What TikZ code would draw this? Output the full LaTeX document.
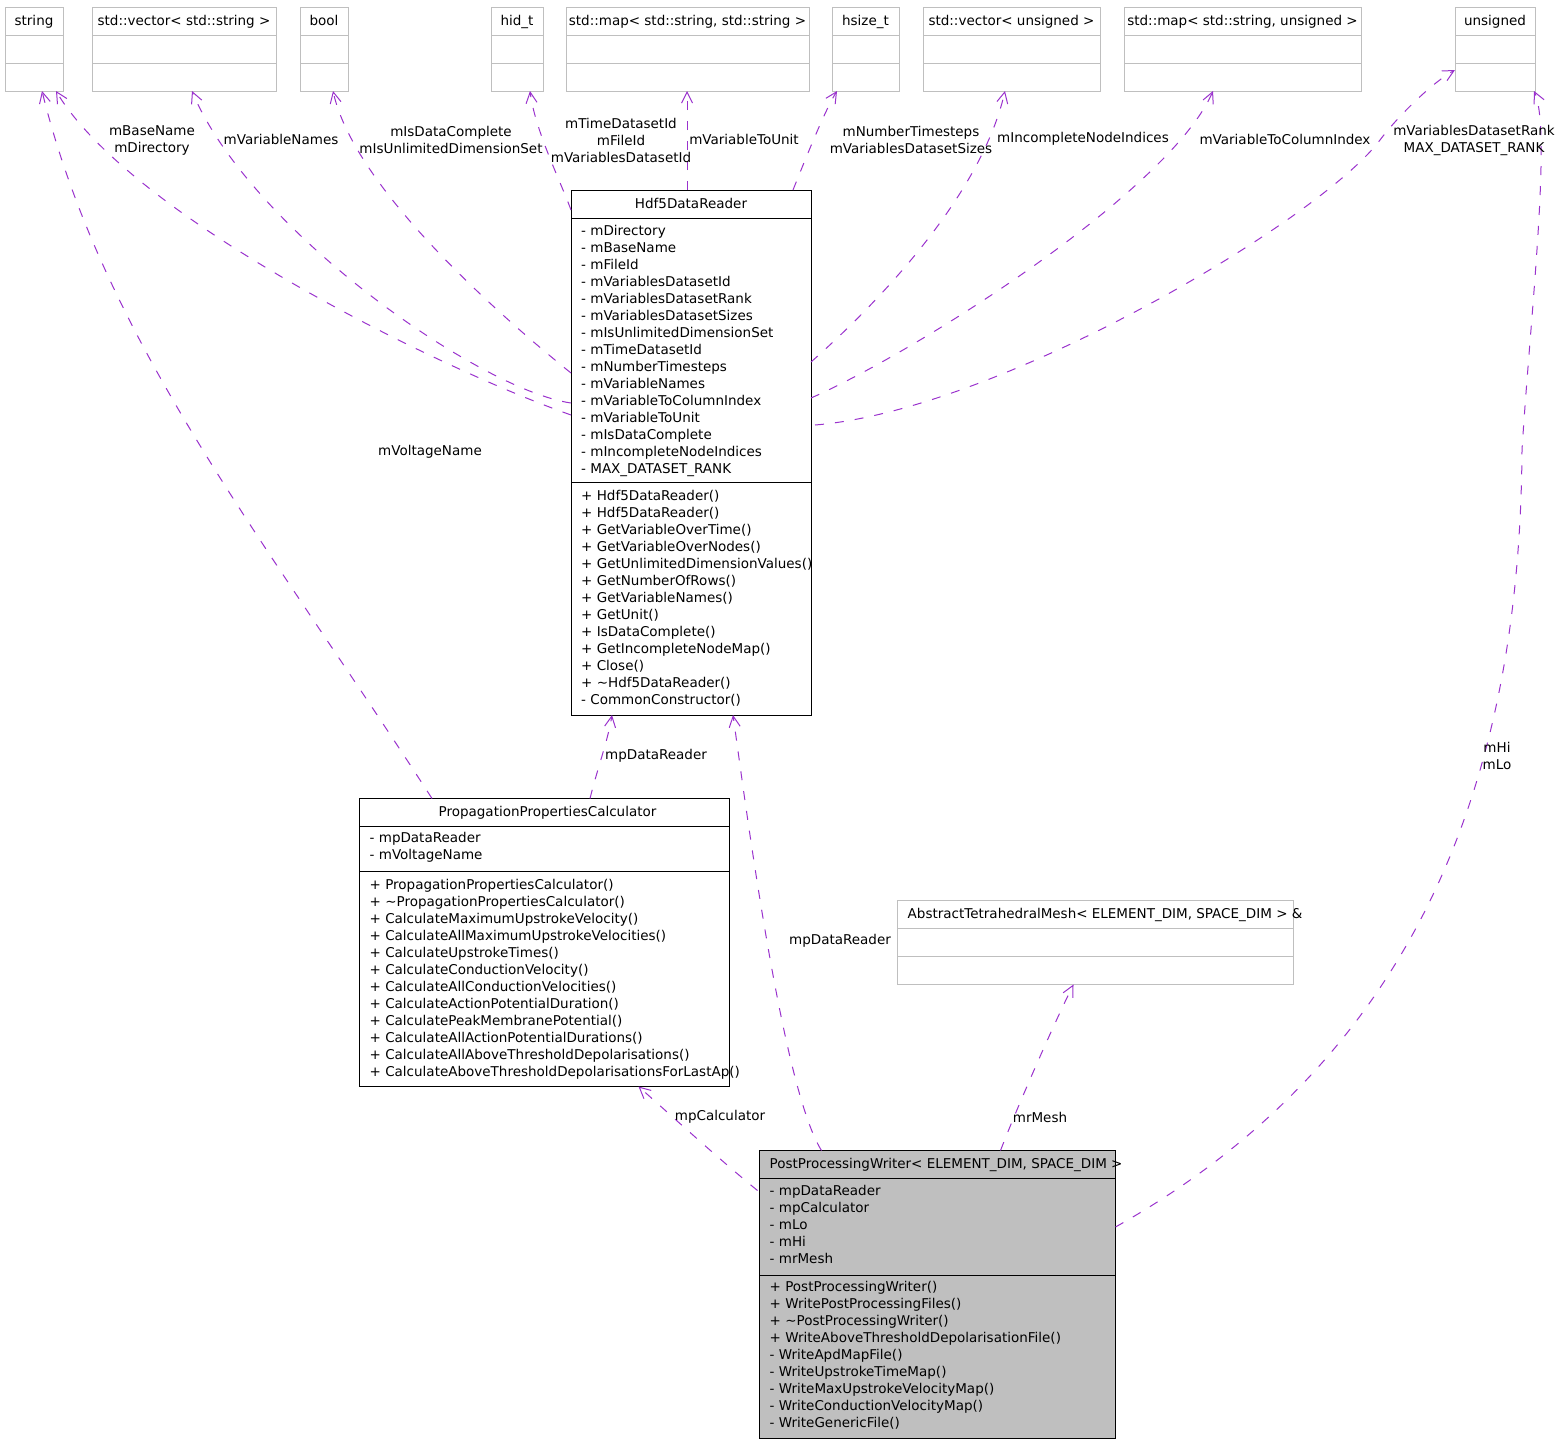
\documentclass[tikz,border=0pt]{standalone}
\usepackage{fontspec}
\setmainfont{DejaVu Sans}
\usetikzlibrary{calc,arrows.meta}
\definecolor{typgray}{HTML}{BFBFBF}
\definecolor{usecol}{HTML}{9A32CD}
\newcommand\fnt{\fontsize{13.5}{17}\selectfont}
\tikzset{
  typ/.style={draw=typgray, line width=1pt, anchor=north west, inner sep=0pt, outer sep=0pt, minimum height=84},
  cls/.style={draw=black, line width=1pt, anchor=north west, inner sep=0pt, outer sep=0pt},
  txt/.style={anchor=base west, inner sep=0pt, font=\fnt},
  ttl/.style={anchor=base, inner sep=0pt, font=\fnt},
  lbl/.style={inner sep=0pt, align=center, font=\fnt},
  rel/.style={draw=usecol, line width=1pt, dash pattern=on 9pt off 11pt,
              -{Straight Barb[length=11pt,width=11pt]}},
  divgray/.style={draw=typgray, line width=1pt},
  divblack/.style={draw=black, line width=1pt},
}
\newcommand\memberlist[4]{%
  \foreach \mtxt [count=\mi] in {#4} {%
    \pgfmathsetmacro\myy{#3+17*(\mi-1)}%
    \node[txt] (#1\mi) at ($(#2.north west)+(10,\myy)$) {\mtxt};}}
\newcommand\typebox[5]{%
  \node[typ, minimum width=#4] (#1) at (#2,#3) {};
  \node[ttl] (#1-t) at ($(#1.north)+(0,18.3)$) {#5};
  \draw[divgray] ($(#1.north west)+(0,28)$) -- ($(#1.north east)+(0,28)$);
  \draw[divgray] ($(#1.north west)+(0,56)$) -- ($(#1.north east)+(0,56)$);}
\begin{document}
\begin{tikzpicture}[x=1pt,y=-1pt]
\useasboundingbox (0,0) rectangle (1567,1443);

% ---------- type boxes (top row) ----------
\typebox{string}{5}{7}{58}{string}
\typebox{vecstr}{92}{7}{184}{std::vector< std::string >}
\typebox{bool}{300}{7}{48}{bool}
\typebox{hidt}{491}{7}{52}{hid\_t}
\typebox{mapss}{566}{7}{243}{std::map< std::string, std::string >}
\typebox{hsizet}{832}{7}{67}{hsize\_t}
\typebox{vecu}{923}{7}{177}{std::vector< unsigned >}
\typebox{mapsu}{1124}{7}{237}{std::map< std::string, unsigned >}
\typebox{unsigned}{1455}{7}{80}{unsigned}

% ---------- Hdf5DataReader ----------
\node[cls, minimum width=240, minimum height=525] (hdf) at (571,190) {};
\node[ttl] (hdf-t) at ($(hdf.north)+(0,18.3)$) {Hdf5DataReader};
\draw[divblack] ($(hdf.north west)+(0,28)$) -- ($(hdf.north east)+(0,28)$);
\draw[divblack] ($(hdf.north west)+(0,292.5)$) -- ($(hdf.north east)+(0,292.5)$);
\memberlist{hdfa}{hdf}{45.7}{- mDirectory,- mBaseName,- mFileId,- mVariablesDatasetId,- mVariablesDatasetRank,- mVariablesDatasetSizes,- mIsUnlimitedDimensionSet,- mTimeDatasetId,- mNumberTimesteps,- mVariableNames,- mVariableToColumnIndex,- mVariableToUnit,- mIsDataComplete,- mIncompleteNodeIndices,- MAX\_DATASET\_RANK}
\memberlist{hdfm}{hdf}{310}{+ Hdf5DataReader(),+ Hdf5DataReader(),+ GetVariableOverTime(),+ GetVariableOverNodes(),+ GetUnlimitedDimensionValues(),+ GetNumberOfRows(),+ GetVariableNames(),+ GetUnit(),+ IsDataComplete(),+ GetIncompleteNodeMap(),+ Close(),+ \textasciitilde Hdf5DataReader(),- CommonConstructor()}

% ---------- PropagationPropertiesCalculator ----------
\node[cls, minimum width=370, minimum height=288] (ppc) at (359.5,798.5) {};
\node[ttl] (ppc-t) at ($(ppc.north)+(3,18.3)$) {PropagationPropertiesCalculator};
\draw[divblack] ($(ppc.north west)+(0,28)$) -- ($(ppc.north east)+(0,28)$);
\draw[divblack] ($(ppc.north west)+(0,73)$) -- ($(ppc.north east)+(0,73)$);
\memberlist{ppca}{ppc}{44.2}{- mpDataReader,- mVoltageName}
\memberlist{ppcm}{ppc}{90.5}{+ PropagationPropertiesCalculator(),+ \textasciitilde PropagationPropertiesCalculator(),+ CalculateMaximumUpstrokeVelocity(),+ CalculateAllMaximumUpstrokeVelocities(),+ CalculateUpstrokeTimes(),+ CalculateConductionVelocity(),+ CalculateAllConductionVelocities(),+ CalculateActionPotentialDuration(),+ CalculatePeakMembranePotential(),+ CalculateAllActionPotentialDurations(),+ CalculateAllAboveThresholdDepolarisations(),+ CalculateAboveThresholdDepolarisationsForLastAp()}

% ---------- AbstractTetrahedralMesh ----------
\node[typ, minimum width=395.5] (abs) at (897.5,900.5) {};
\node[txt] (abs-t) at ($(abs.north west)+(10,17.8)$) {AbstractTetrahedralMesh< ELEMENT\_DIM, SPACE\_DIM > \&};
\draw[divgray] ($(abs.north west)+(0,28)$) -- ($(abs.north east)+(0,28)$);
\draw[divgray] ($(abs.north west)+(0,56)$) -- ($(abs.north east)+(0,56)$);

% ---------- PostProcessingWriter ----------
\node[cls, fill=typgray, minimum width=356, minimum height=287.5] (ppw) at (759.5,1150.5) {};
\node[txt] (ppw-t) at ($(ppw.north west)+(10,18)$) {PostProcessingWriter< ELEMENT\_DIM, SPACE\_DIM >};
\draw[divblack] ($(ppw.north west)+(0,28)$) -- ($(ppw.north east)+(0,28)$);
\draw[divblack] ($(ppw.north west)+(0,124.5)$) -- ($(ppw.north east)+(0,124.5)$);
\memberlist{ppwa}{ppw}{44.5}{- mpDataReader,- mpCalculator,- mLo,- mHi,- mrMesh}
\memberlist{ppwm}{ppw}{141.2}{+ PostProcessingWriter(),+ WritePostProcessingFiles(),+ \textasciitilde PostProcessingWriter(),+ WriteAboveThresholdDepolarisationFile(),- WriteApdMapFile(),- WriteUpstrokeTimeMap(),- WriteMaxUpstrokeVelocityMap(),- WriteConductionVelocityMap(),- WriteGenericFile()}

% ---------- connectors ----------
\coordinate (bend1) at (1380,140);
\coordinate (bend2) at (1522,450);

\draw[rel] ($(ppc.north west)+(72.5,0)$) .. controls (270,547) and (104,342) .. ($(string.south west)+(37,0)$);
\draw[rel] ($(hdf.north west)+(0,225)$) .. controls (430,365) and (130,215) .. ($(string.south west)+(51,0)$);
\draw[rel] ($(hdf.north west)+(0,213)$) .. controls (480,390) and (250,230) .. ($(vecstr.south west)+(100,0)$);
\draw[rel] ($(hdf.north west)+(0,183)$) .. controls (505,320) and (355,190) .. ($(bool.south west)+(33,0)$);
\draw[rel] ($(hdf.north west)+(0,20)$) .. controls (560,180) and (535,130) .. ($(hidt.south west)+(39,0)$);
\draw[rel] ($(hdf.north west)+(116,0)$) -- ($(mapss.south west)+(121,0)$);
\draw[rel] ($(hdf.north west)+(222,0)$) .. controls (805,160) and (825,110) .. ($(hsizet.south west)+(5,0)$);
\draw[rel] ($(hdf.north east)+(0,172)$) .. controls (870,310) and (980,200) .. ($(vecu.south west)+(82,0)$);
\draw[rel] ($(hdf.north east)+(0,208)$) .. controls (920,350) and (1170,190) .. ($(mapsu.south west)+(89,0)$);
\draw[rel] ($(hdf.north east)+(4,235)$) .. controls (1000,410) and (1320,220) .. (bend1)
           .. controls (1398,116) and (1433,82) .. ($(unsigned.north west)+(0,63)$);
\draw[rel] ($(ppw.north east)+(0,76.5)$) .. controls (1430,1050) and (1520,760) .. (bend2)
           .. controls (1530,320) and (1552,130) .. ($(unsigned.south west)+(79,0)$);
\draw[rel] ($(ppc.north west)+(230.5,0)$) .. controls (597,770) and (608,740) .. ($(hdf.south west)+(41,0)$);
\draw[rel] ($(ppw.north west)+(62,0)$) .. controls (782,1088) and (745,800) .. ($(hdf.south west)+(162,0)$);
\draw[rel] ($(ppw.north west)+(-2,40)$) .. controls (720,1160) and (665,1110) .. ($(ppc.south west)+(279,0)$);
\draw[rel] ($(ppw.north west)+(241,0)$) .. controls (1020,1100) and (1058,1015) .. ($(abs.south west)+(176,0)$);

% ---------- connector labels ----------
\node[lbl] (l-base) at (152,140) {mBaseName\\mDirectory};
\node[lbl] (l-vnames) at (281,139) {mVariableNames};
\node[lbl] (l-isdata) at (451,140) {mIsDataComplete\\mIsUnlimitedDimensionSet};
\node[lbl] (l-time) at (621,140) {mTimeDatasetId\\mFileId\\mVariablesDatasetId};
\node[lbl] (l-unit) at (744,139) {mVariableToUnit};
\node[lbl] (l-num) at (911,140) {mNumberTimesteps\\mVariablesDatasetSizes};
\node[lbl] (l-inc) at (1083,139) {mIncompleteNodeIndices};
\node[lbl] (l-col) at (1285,139) {mVariableToColumnIndex};
\node[lbl] (l-rank) at (1474,140) {mVariablesDatasetRank\\MAX\_DATASET\_RANK};
\node[lbl] (l-volt) at (430,452) {mVoltageName};
\node[lbl] (l-pdr1) at (656,756) {mpDataReader};
\node[lbl] (l-pdr2) at (840,941) {mpDataReader};
\node[lbl] (l-calc) at (720,1117) {mpCalculator};
\node[lbl] (l-mesh) at (1040,1117) {mrMesh};
\node[lbl] (l-hilo) at (1497,756) {mHi\\mLo};
\end{tikzpicture}
\end{document}
